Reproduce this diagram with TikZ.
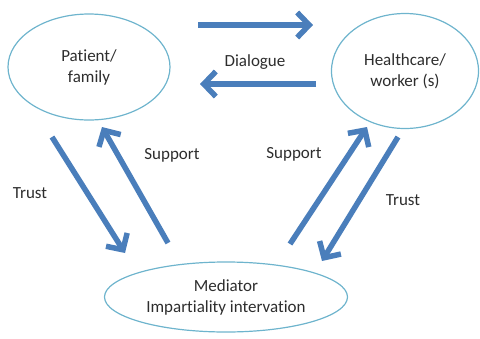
\documentclass[tikz,border=0pt]{standalone}
\usepackage{fontspec}
\setmainfont{Carlito}[Ligatures=NoCommon]
\usetikzlibrary{shapes.geometric,arrows.meta}
\definecolor{flowblue}{RGB}{74,126,187}
\definecolor{rimblue}{RGB}{110,180,205}
\definecolor{inkgray}{RGB}{45,45,45}
\tikzset{
  party/.style={draw=rimblue,line width=1.2pt,ellipse,align=center,
    text=inkgray,font=\fontsize{17}{21}\selectfont},
  flow/.style={draw=flowblue,line width=5.5pt,
    -{Straight Barb[length=12pt,width=25pt]}},
  tag/.style={text=inkgray,font=\fontsize{17}{21}\selectfont}
}
\begin{document}
\begin{tikzpicture}[x=1pt,y=-1pt]
  \useasboundingbox (0,0) rectangle (480,338);
  % the three parties
  \node[party,minimum width=162pt,minimum height=106pt] (patient) at (89,67) {Patient/\\family};
  \node[party,minimum width=147pt,minimum height=115pt] (worker) at (405,71) {Healthcare/\\worker (s)};
  \node[party,minimum width=243pt,minimum height=70pt] (mediator) at (226,297) {Mediator\\Impartiality intervation};
  % arrow ends
  \coordinate (dia1) at (198,25);  \coordinate (dia2) at (313,25);
  \coordinate (dia3) at (316,84);  \coordinate (dia4) at (200,84);
  \coordinate (lt1) at (52,137);   \coordinate (lt2) at (125,253);
  \coordinate (ls1) at (168,243);  \coordinate (ls2) at (102,127);
  \coordinate (rs1) at (290,244);  \coordinate (rs2) at (367,127);
  \coordinate (rt1) at (398,137);  \coordinate (rt2) at (322,261);
  \draw[flow] (dia1)--(dia2);
  \draw[flow] (dia3)--(dia4);
  \draw[flow] (lt1)--(lt2);
  \draw[flow] (ls1)--(ls2);
  \draw[flow] (rs1)--(rs2);
  \draw[flow] (rt1)--(rt2);
  % labels
  \node[tag] (dialogue) at (255,62) {Dialogue};
  \node[tag] (supl) at (172,155) {Support};
  \node[tag] (supr) at (294,154) {Support};
  \node[tag] (trustl) at (30,193) {Trust};
  \node[tag] (trustr) at (403,200) {Trust};
\end{tikzpicture}
\end{document}
